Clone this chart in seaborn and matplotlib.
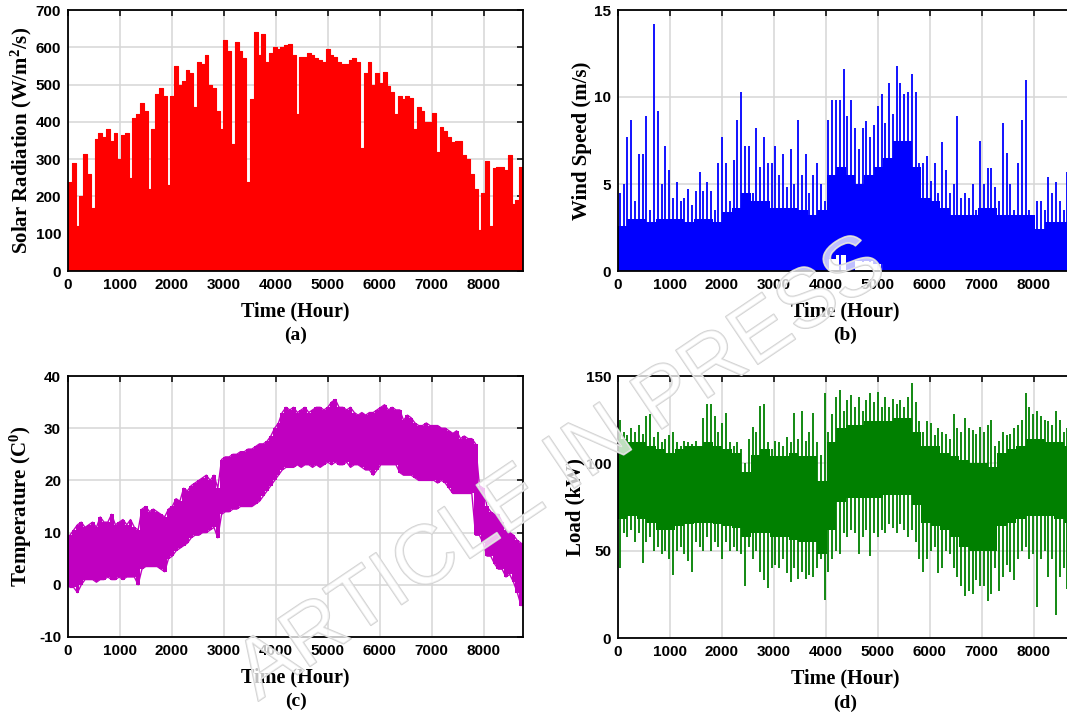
import numpy as np
import matplotlib
matplotlib.use("Agg")
import matplotlib.pyplot as plt
import matplotlib.patheffects as pe
import seaborn as sns

# ---------------------------------------------------------------------------
# Hourly data over one year (8760 h), summarised in 73-hour bins (120 bins):
# each bin keeps its extreme values; the dense body of the signal is kept in
# 182.5-hour bins (48 bins).
# ---------------------------------------------------------------------------
HOURS_PER_YEAR = 8760
N_BIN = 120
N_BAND = 48

# (a) solar radiation, daily peak level per bin (W/m2/s); nights are 0
solar_peak = [
    240, 290, 120, 200, 315, 260, 170, 355, 370, 360,
    380, 350, 370, 300, 365, 370, 250, 410, 420, 450,
    430, 220, 380, 475, 490, 470, 230, 470, 550, 500,
    510, 540, 530, 440, 560, 555, 580, 500, 490, 430,
    380, 620, 590, 340, 615, 590, 570, 240, 460, 640,
    580, 635, 560, 585, 600, 595, 600, 605, 610, 580,
    420, 575, 575, 585, 580, 570, 565, 560, 595, 580,
    575, 560, 555, 555, 565, 570, 560, 330, 530, 560,
    500, 530, 505, 535, 495, 480, 420, 470, 460, 470,
    465, 380, 440, 430, 400, 400, 425, 320, 385, 375,
    360, 345, 350, 350, 310, 300, 260, 220, 110, 210,
    295, 120, 275, 280, 280, 270, 310, 180, 190, 280,
]

# (b) wind speed (m/s)
wind_max = [
    4.5, 5.0, 7.7, 8.7, 4.0, 6.7, 6.7, 8.9, 3.5, 14.2,
    9.2, 5.0, 7.2, 5.8, 4.2, 5.1, 4.0, 4.2, 4.7, 3.8,
    4.6, 5.7, 4.6, 5.1, 4.6, 3.5, 6.2, 7.7, 6.2, 4.0,
    6.4, 8.7, 10.3, 7.2, 7.2, 4.5, 8.2, 6.0, 7.7, 6.2,
    6.2, 7.2, 5.5, 6.7, 4.8, 7.0, 5.0, 8.7, 5.5, 6.7,
    4.5, 5.5, 6.2, 5.0, 4.0, 8.7, 9.8, 9.8, 9.8, 11.6,
    8.9, 9.8, 8.2, 7.0, 8.2, 8.6, 7.7, 8.4, 9.5, 10.2,
    8.5, 10.8, 9.0, 11.8, 10.8, 10.2, 10.3, 11.3, 10.3, 6.2,
    6.2, 6.6, 5.2, 6.2, 4.5, 7.4, 5.8, 4.5, 5.0, 8.9,
    4.2, 4.5, 4.2, 5.0, 3.5, 7.5, 5.0, 5.9, 5.9, 4.8,
    4.0, 8.5, 6.8, 5.0, 3.5, 6.2, 8.7, 11.0, 3.5, 2.0,
    4.0, 4.0, 3.5, 5.4, 4.5, 5.1, 4.0, 3.5, 5.7, 3.0,
]
wind_min = [
    0, 0, 0, 0, 0, 0, 0, 0, 0, 0,
    0, 0, 0, 0, 0, 0, 0, 0, 0, 0,
    0, 0, 0, 0, 0, 0, 0, 0, 0, 0,
    0, 0, 0, 0, 0, 0, 0, 0, 0, 0,
    0, 0, 0, 0, 0, 0, 0, 0, 0, 0,
    0, 0, 0, 0, 0, 0, 0.8, 0.9, 0, 1.0,
    0, 0, 1.3, 0.6, 0.5, 0.6, 0.5, 0.4, 0.8, 0,
    0, 0, 0, 0, 0, 0, 0, 0, 0, 0,
    0, 0, 0, 0, 0, 0, 0, 0, 0, 0,
    0, 0, 0, 0, 0, 0, 0, 0, 0, 0,
    0, 0, 0, 0, 0, 0, 0, 0, 0, 0,
    0, 0, 0, 0, 0, 0, 0, 0, 0, 0,
]
wind_band_low = [
    0, 0, 0, 0, 0, 0, 0, 0, 0, 0, 0, 0,
    0, 0, 0, 0, 0, 0, 0, 0, 0, 0, 0.7, 0.9,
    0, 0.6, 0.6, 0.4, 0, 0, 0, 0, 0, 0, 0, 0,
    0, 0, 0, 0, 0, 0, 0, 0, 0, 0, 0, 0,
]
wind_band_high = [
    2.6, 3.0, 3.0, 2.8, 3.0, 3.0, 3.0, 2.8, 3.0, 3.0, 2.8, 3.4,
    3.6, 4.5, 4.0, 4.0, 3.6, 3.6, 3.6, 3.5, 3.2, 3.5, 5.5, 6.0,
    5.5, 5.0, 5.5, 6.0, 6.5, 7.5, 7.5, 6.0, 4.2, 4.0, 3.6, 3.2,
    3.2, 3.2, 3.6, 3.6, 3.2, 3.2, 3.2, 3.2, 2.4, 2.8, 2.8, 2.8,
]

# (c) temperature (C)
temp_max = [
    9.5, 10.5, 11.5, 12, 11, 11.5, 12, 11, 13, 12,
    12, 13.5, 11.5, 12, 12.5, 11.5, 12.5, 11, 10.5, 14.5,
    15, 14, 14.5, 14, 13.5, 13, 14.5, 15, 16.5, 16,
    18.5, 18, 19, 19.5, 20, 20.5, 21, 20, 21, 18.5,
    24, 24.5, 24.5, 25, 25, 25.5, 25.5, 26, 26, 26.5,
    27, 27, 27.5, 28.5, 30, 31, 33, 34, 33.5, 34,
    33, 33.5, 34, 33, 33.5, 34, 34, 33.5, 34, 35,
    35.5, 34, 34, 33.5, 34, 33, 32.5, 33, 32.5, 33,
    33, 33.5, 34, 34.5, 33.5, 34, 33.5, 33.5, 31.5, 32.5,
    32, 31, 30.5, 30.5, 31, 30.5, 30.5, 30.5, 30, 30,
    29.5, 29, 29.5, 28, 28.5, 28, 28, 27, 19, 18.5,
    15, 14, 13.5, 13.5, 12, 10.5, 10, 9.5, 8.5, 8,
]
temp_min = [
    -0.5, -0.5, -1.5, 0, 1, 1, 1, 0.5, 1, 1,
    1.5, 1, 1, 1.5, 1, 1.5, 1.5, 1.5, 0, 3,
    3.5, 3.5, 3.5, 3.5, 3, 2.5, 5, 5.5, 6.5, 7,
    7.5, 8, 9, 9.5, 9.5, 10, 10, 10.5, 11, 9,
    13.5, 14, 14, 14.5, 14.5, 15, 15, 15, 15, 15.5,
    16, 17, 18, 19, 20, 21, 22, 22.5, 22.5, 22.5,
    23, 22.5, 23, 23, 22.5, 23, 22.5, 23, 23.5, 23,
    23.5, 23, 23, 23.5, 22.5, 23, 23, 22.5, 22, 22,
    21, 22, 23, 23, 23, 23, 23, 21.5, 21, 21,
    21, 20.5, 20, 20, 20, 20, 20, 19.5, 20, 19.5,
    18.5, 17.5, 17.5, 17.5, 17.5, 17.5, 17.5, 9.5, 9.5, 8,
    5.5, 5.5, 4, 3, 3, 1.5, 2, 0.5, -1.5, -4,
]

# (d) load (kW)
load_max = [
    125, 118, 116, 120, 118, 122, 117, 127, 128, 115,
    118, 112, 114, 116, 118, 112, 110, 113, 112, 111,
    113, 110, 126, 134, 134, 127, 118, 123, 129, 112,
    110, 112, 108, 100, 114, 121, 118, 133, 134, 112,
    108, 113, 112, 110, 115, 112, 129, 114, 130, 113,
    118, 129, 112, 105, 140, 118, 128, 138, 142, 130,
    136, 139, 132, 138, 130, 136, 140, 135, 141, 132,
    138, 132, 137, 134, 136, 132, 138, 146, 135, 124,
    118, 124, 123, 116, 120, 118, 117, 114, 128, 120,
    118, 126, 120, 119, 117, 121, 118, 122, 125, 110,
    113, 118, 116, 117, 120, 122, 125, 140, 132, 128,
    130, 127, 125, 124, 122, 130, 125, 118, 120, 118,
]
load_min = [
    40, 60, 58, 62, 55, 60, 43, 55, 58, 50,
    52, 48, 50, 45, 36, 50, 52, 48, 44, 38,
    55, 52, 50, 58, 50, 55, 52, 45, 55, 50,
    52, 50, 48, 30, 52, 45, 50, 38, 33, 28.5,
    40, 42, 40, 45, 37, 32, 40, 34, 38, 33.5,
    36, 35, 40, 45, 22, 38, 45, 50, 48, 60,
    58, 62, 60, 48, 58, 62, 47, 60, 58, 62,
    60, 65, 63, 60, 65, 62, 58, 62, 55, 45,
    38, 45, 50, 52, 37, 40, 50, 48, 40, 35,
    30, 24, 27, 25, 33, 30, 30, 21, 25, 40,
    27, 35, 42, 38, 33, 45, 50, 52, 45, 48,
    18, 45, 50, 35, 45, 13, 35, 40, 28, 40,
]
load_band_low = [
    68, 70, 68, 66, 62, 62, 64, 65, 66, 66, 65, 64,
    63, 58, 60, 60, 58, 58, 56, 55, 55, 48, 62, 78,
    80, 80, 80, 80, 82, 82, 82, 76, 66, 64, 62, 58,
    52, 50, 50, 50, 64, 66, 68, 70, 70, 70, 68, 66,
]
load_band_high = [
    114, 112, 112, 110, 108, 106, 108, 110, 110, 112, 110, 108,
    106, 95, 105, 108, 104, 104, 106, 104, 104, 90, 112, 120,
    122, 122, 124, 124, 124, 126, 126, 118, 110, 110, 106, 104,
    102, 100, 100, 98, 106, 108, 110, 114, 114, 112, 112, 110,
]

x_ticks = list(range(0, 8001, 1000))

# ---------------------------------------------------------------------------
sns.set_theme(style="whitegrid")
plt.rcParams["font.family"] = ["Liberation Sans", "DejaVu Sans"]
plt.rcParams["axes.unicode_minus"] = False
plt.rcParams["mathtext.fontset"] = "custom"
plt.rcParams["mathtext.rm"] = "Liberation Serif:bold"
plt.rcParams["mathtext.it"] = "Liberation Serif:bold"
plt.rcParams["mathtext.bf"] = "Liberation Serif:bold"
plt.rcParams["mathtext.default"] = "rm"

W, H = 1067, 717
fig = plt.figure(figsize=(W / 100, H / 100), dpi=100)
fig.patch.set_facecolor("white")

bin_edges = np.linspace(0, HOURS_PER_YEAR, N_BIN + 1)
bin_mid = 0.5 * (bin_edges[:-1] + bin_edges[1:])
band_edges = np.linspace(0, HOURS_PER_YEAR, N_BAND + 1)

label_font = dict(family="Liberation Serif", weight="bold")


def make_axes(left_px, top_px, bottom_px, width_px=455):
    return fig.add_axes([left_px / W, 1 - bottom_px / H,
                         width_px / W, (bottom_px - top_px) / H])


def style_axes(ax, ylim, yticks, ylabel, ylabel_x, letter):
    ax.set_xlim(0, HOURS_PER_YEAR)
    ax.set_ylim(*ylim)
    ax.set_xticks(x_ticks)
    ax.set_yticks(yticks)
    ax.set_facecolor("white")
    ax.grid(True, color="#d6d6d6", linewidth=1.1)
    ax.set_axisbelow(True)
    for sp in ax.spines.values():
        sp.set_color("black")
        sp.set_linewidth(1.3)
    ax.tick_params(direction="in", top=True, right=True, length=4, width=1.1,
                   color="black", labelsize=11, pad=5, labelcolor="black")
    for lab in ax.get_xticklabels() + ax.get_yticklabels():
        lab.set_fontweight("bold")
    ax.set_xlabel("Time (Hour)", fontsize=14.5, color="black", **label_font)
    ax.xaxis.set_label_coords(0.5, -0.118)
    ax.xaxis.label.set_va("top")
    ax.set_ylabel(ylabel, fontsize=15, color="black", **label_font)
    ax.yaxis.set_label_coords(ylabel_x, 0.5)
    ax.text(0.5, -0.215, letter, transform=ax.transAxes, ha="center", va="top",
            fontsize=14, color="black", **label_font)


# (a) solar radiation
ax_a = make_axes(68, 10, 271)
ax_a.stairs(solar_peak, bin_edges, baseline=0, fill=True, color="#ff0000",
            linewidth=0)
sns.lineplot(x=bin_mid, y=solar_peak, ax=ax_a, color="#ff0000",
             drawstyle="steps-mid", linewidth=0.8)
style_axes(ax_a, (0, 700), range(0, 701, 100),
           r"Solar Radiation (W/m$^{2}$/s)", -0.074, "(a)")

# (b) wind speed
ax_b = make_axes(618, 10, 271)
ax_b.stairs(wind_band_high, band_edges, baseline=wind_band_low, fill=True,
            color="#0000ff", linewidth=0)
ax_b.vlines(bin_mid, wind_min, wind_max, color="#0000ff", linewidth=1.3)
style_axes(ax_b, (0, 15), [0, 5, 10, 15], "Wind Speed (m/s)", -0.058, "(b)")

# (c) temperature
ax_c = make_axes(68, 376, 637)
ax_c.stairs(temp_max, bin_edges, baseline=temp_min, fill=True,
            color="#c000c0", linewidth=0)
sns.lineplot(x=bin_mid, y=temp_max, ax=ax_c, color="#c000c0",
             linewidth=1.0)
sns.lineplot(x=bin_mid, y=temp_min, ax=ax_c, color="#c000c0",
             linewidth=1.0)
style_axes(ax_c, (-10, 40), range(-10, 41, 10), r"Temperature (C$^{0}$)",
           -0.074, "(c)")

# (d) load
ax_d = make_axes(618, 376, 638)
ax_d.stairs(load_band_high, band_edges, baseline=load_band_low, fill=True,
            color="#008000", linewidth=0)
ax_d.vlines(bin_mid, load_min, load_max, color="#008000", linewidth=1.3)
style_axes(ax_d, (0, 150), [0, 50, 100, 150], "Load (kW)", -0.072, "(d)")

# diagonal "ARTICLE IN PRESS" stamp across the page
fig.text(0.527, 0.345, "ARTICLE IN PRESS", rotation=34, ha="center",
         va="center", fontsize=60, family="Liberation Sans",
         color=(1, 1, 1, 0.5), zorder=20,
         path_effects=[pe.withStroke(linewidth=1.2, foreground="#d2d2d2")])

fig.savefig("out.png", dpi=100, facecolor="white")
